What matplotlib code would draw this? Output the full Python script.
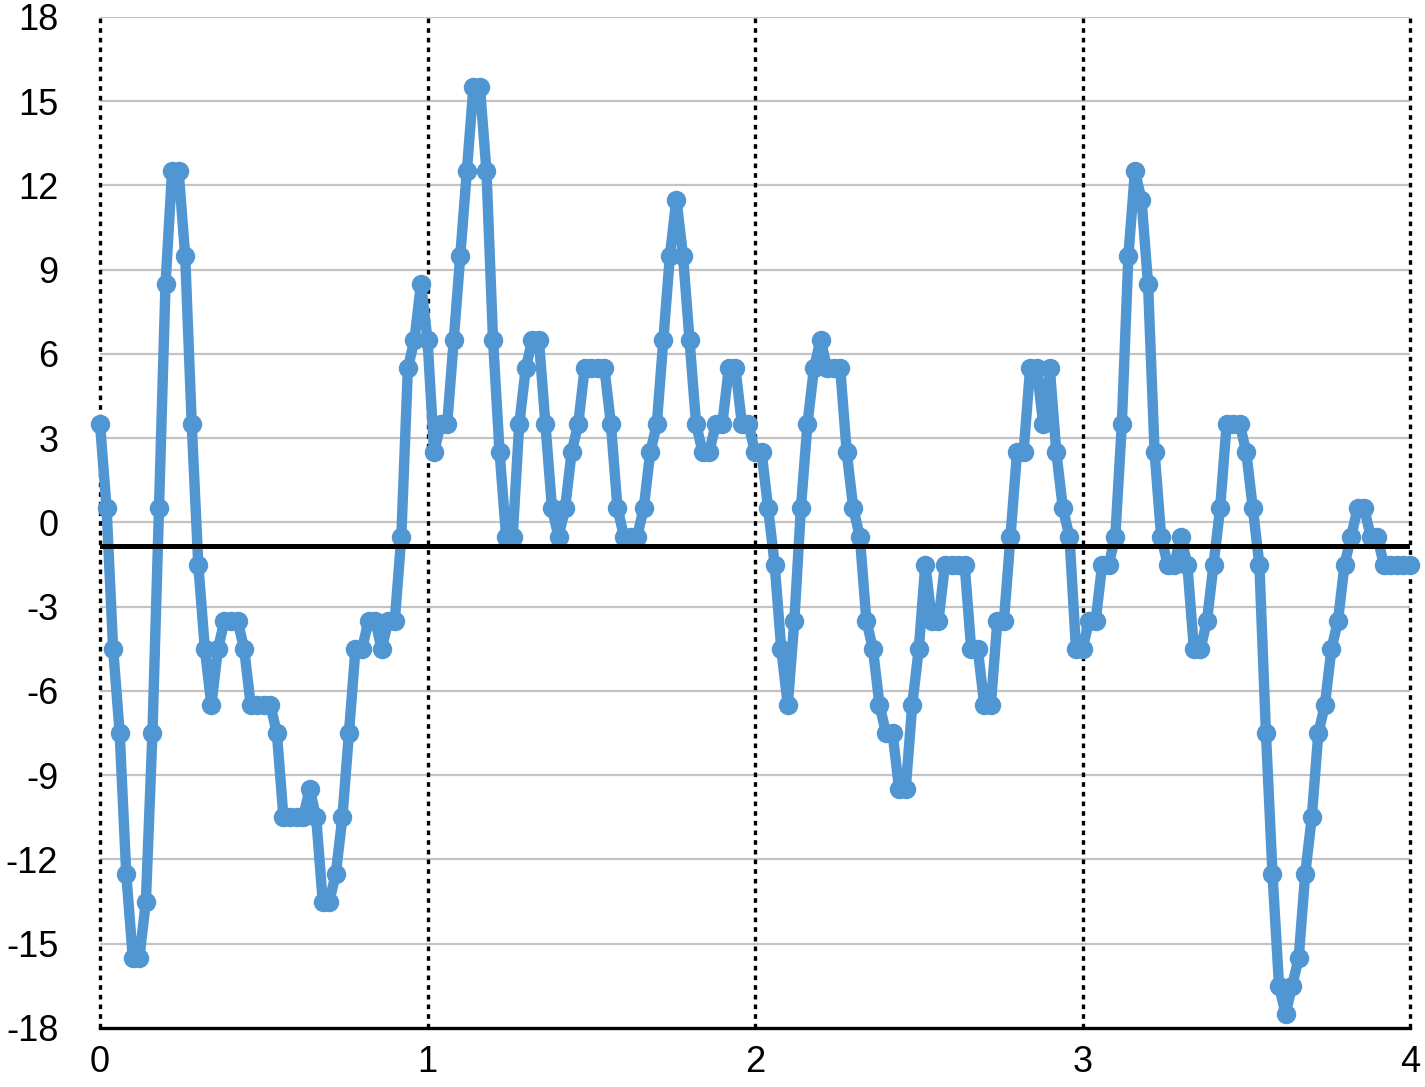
import numpy as np
import matplotlib
matplotlib.use('Agg')
import matplotlib.pyplot as plt

# sampled every 0.02 from 0 to 4 (201 samples), one row per 0.2
step = 0.02
values = [
    3.5, 0.5, -4.5, -7.5, -12.5, -15.5, -15.5, -13.5, -7.5, 0.5,
    8.5, 12.5, 12.5, 9.5, 3.5, -1.5, -4.5, -6.5, -4.5, -3.5,
    -3.5, -3.5, -4.5, -6.5, -6.5, -6.5, -6.5, -7.5, -10.5, -10.5,
    -10.5, -10.5, -9.5, -10.5, -13.5, -13.5, -12.5, -10.5, -7.5, -4.5,
    -4.5, -3.5, -3.5, -4.5, -3.5, -3.5, -0.5, 5.5, 6.5, 8.5,
    6.5, 2.5, 3.5, 3.5, 6.5, 9.5, 12.5, 15.5, 15.5, 12.5,
    6.5, 2.5, -0.5, -0.5, 3.5, 5.5, 6.5, 6.5, 3.5, 0.5,
    -0.5, 0.5, 2.5, 3.5, 5.5, 5.5, 5.5, 5.5, 3.5, 0.5,
    -0.5, -0.5, -0.5, 0.5, 2.5, 3.5, 6.5, 9.5, 11.5, 9.5,
    6.5, 3.5, 2.5, 2.5, 3.5, 3.5, 5.5, 5.5, 3.5, 3.5,
    2.5, 2.5, 0.5, -1.5, -4.5, -6.5, -3.5, 0.5, 3.5, 5.5,
    6.5, 5.5, 5.5, 5.5, 2.5, 0.5, -0.5, -3.5, -4.5, -6.5,
    -7.5, -7.5, -9.5, -9.5, -6.5, -4.5, -1.5, -3.5, -3.5, -1.5,
    -1.5, -1.5, -1.5, -4.5, -4.5, -6.5, -6.5, -3.5, -3.5, -0.5,
    2.5, 2.5, 5.5, 5.5, 3.5, 5.5, 2.5, 0.5, -0.5, -4.5,
    -4.5, -3.5, -3.5, -1.5, -1.5, -0.5, 3.5, 9.5, 12.5, 11.5,
    8.5, 2.5, -0.5, -1.5, -1.5, -0.5, -1.5, -4.5, -4.5, -3.5,
    -1.5, 0.5, 3.5, 3.5, 3.5, 2.5, 0.5, -1.5, -7.5, -12.5,
    -16.5, -17.5, -16.5, -15.5, -12.5, -10.5, -7.5, -6.5, -4.5, -3.5,
    -1.5, -0.5, 0.5, 0.5, -0.5, -0.5, -1.5, -1.5, -1.5, -1.5,
    -1.5,
]
mean_level = -0.83
x_ticks = [0, 1, 2, 3, 4]
y_ticks = list(range(-18, 19, 3))

t = np.arange(len(values)) * step

plt.rcParams['font.family'] = ['Liberation Sans', 'DejaVu Sans']
plt.rcParams['axes.unicode_minus'] = False

fig = plt.figure(figsize=(14.25, 10.87), dpi=100)
ax = fig.add_axes([0.0702, 0.0543, 0.9193, 0.9301])

for y in y_ticks[1:]:
    ax.axhline(y, color='#c3c3c3', lw=1.6, zorder=1)
ax.axhline(-18, color='black', lw=2.4, zorder=2, clip_on=False)
for x in x_ticks:
    ax.axvline(x, color='black', lw=2.4, linestyle=(0, (1.4, 1.5)), zorder=2,
               clip_on=False)

ax.plot(t, values, color='#5096d2', lw=7.5, marker='o', markersize=13,
        zorder=3, clip_on=False)
ax.axhline(mean_level, color='black', lw=3.6, zorder=4)

ax.set_xlim(0, 4)
ax.set_ylim(-18, 18)
ax.set_xticks(x_ticks)
ax.set_yticks(y_ticks)
ax.tick_params(length=0, labelsize=26)
ax.tick_params(axis='y', pad=30)
ax.tick_params(axis='x', pad=12)
for s in ax.spines.values():
    s.set_visible(False)

fig.savefig('out.png', dpi=100)
